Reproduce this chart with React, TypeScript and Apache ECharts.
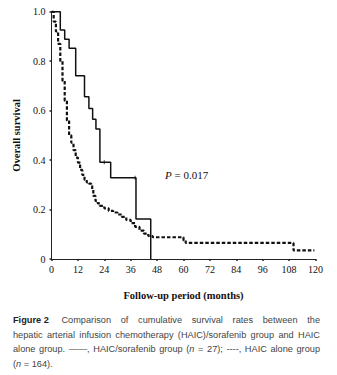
import React, { useEffect, useRef } from "react";
import * as echarts from "echarts";

// Kaplan-Meier step points [month, survival]
const comboTimes = [0, 4, 6, 8, 11, 15, 17, 18.7, 20.2, 22, 26.9, 38.4, 45.1];
const comboSurv = [1.0, 0.926, 0.889, 0.852, 0.741, 0.656, 0.609, 0.565, 0.526, 0.391, 0.329, 0.162, 0];
const comboCensorTimes = [24, 38];
const comboCensorSurv = [0.391, 0.329];

const aloneTimes = [0, 1, 2, 3, 4, 5, 6, 7, 8, 9, 10, 11, 12, 13, 14, 15, 16, 17, 18, 18.5, 19, 20, 21, 22, 24, 26, 28, 30, 32, 34, 36, 38, 40, 42, 44, 46, 59, 60, 61, 109, 110, 119.5];
const aloneSurv = [1.0, 0.96, 0.92, 0.87, 0.8, 0.72, 0.64, 0.56, 0.5, 0.47, 0.44, 0.41, 0.39, 0.36, 0.34, 0.32, 0.31, 0.305, 0.3, 0.28, 0.255, 0.235, 0.225, 0.215, 0.205, 0.195, 0.188, 0.18, 0.17, 0.158, 0.145, 0.13, 0.115, 0.103, 0.093, 0.088, 0.088, 0.075, 0.065, 0.065, 0.035, 0.035];

const xTicks = [0, 12, 24, 36, 48, 60, 72, 84, 96, 108, 120];
const yTicks = [0, 0.2, 0.4, 0.6, 0.8, 1.0];

const serif = "'Liberation Serif', 'Times New Roman', serif";
const sans = "'Liberation Sans', Arial, sans-serif";

export default function App() {
  const ref = useRef<HTMLDivElement>(null);
  useEffect(() => {
    if (!ref.current) return;
    const chart = echarts.init(ref.current, null, { renderer: "svg" });
    const pair = (t: number[], s: number[]) => t.map((v, i) => [v, s[i]]);
    chart.setOption({
      animation: false,
      grid: { left: 51.5, right: 21.5, top: 11.7, bottom: 116, containLabel: false },
      xAxis: {
        type: "value",
        min: xTicks[0],
        max: xTicks[xTicks.length - 1],
        interval: 12,
        name: "Follow-up period (months)",
        nameLocation: "middle",
        nameGap: 31,
        nameTextStyle: { fontFamily: serif, fontWeight: "bold", fontSize: 10.5, color: "#111" },
        axisLine: { lineStyle: { color: "#222", width: 1 } },
        axisTick: { show: true, length: 2, lineStyle: { color: "#222", width: 1.5 } },
        axisLabel: { fontFamily: serif, fontSize: 10, color: "#111", margin: 5 },
        splitLine: { show: false },
      },
      yAxis: {
        type: "value",
        min: yTicks[0],
        max: yTicks[yTicks.length - 1],
        interval: 0.2,
        name: "Overall survival",
        nameLocation: "middle",
        nameGap: 28,
        nameTextStyle: { fontFamily: serif, fontWeight: "bold", fontSize: 10.5, color: "#111" },
        axisLine: { show: true, lineStyle: { color: "#222", width: 1 } },
        axisTick: { show: true, length: 2, lineStyle: { color: "#222", width: 1.5 } },
        axisLabel: {
          fontFamily: serif,
          fontSize: 10,
          color: "#111",
          margin: 6,
          formatter: (v: number) => (v === 0 ? "0" : v.toFixed(1)),
        },
        splitLine: { show: false },
      },
      series: [
        {
          type: "line",
          name: "HAIC alone",
          data: pair(aloneTimes, aloneSurv),
          step: "end",
          showSymbol: false,
          lineStyle: { color: "#111", width: 2.2, type: [3.5, 2] },
        },
        {
          type: "line",
          name: "HAIC/sorafenib",
          data: pair(comboTimes, comboSurv),
          step: "end",
          showSymbol: false,
          lineStyle: { color: "#111", width: 1.5 },
        },
        {
          type: "scatter",
          data: pair(comboCensorTimes, comboCensorSurv),
          symbol: "rect",
          symbolSize: [1.2, 4],
          itemStyle: { color: "#333" },
        },
      ],
      graphic: [
        {
          type: "text",
          left: 165,
          top: 169,
          style: {
            rich: {
              i: { fontFamily: serif, fontStyle: "italic", fontSize: 11, fill: "#111" },
              n: { fontFamily: serif, fontSize: 11, fill: "#111" },
            },
            text: "{i|P}{n| = 0.017}",
          },
        },
      ],
    });
    return () => chart.dispose();
  }, []);

  const lineStyle: React.CSSProperties = {
    textAlign: "justify",
    textAlignLast: "justify",
    height: 14.5,
    lineHeight: "14.5px",
  };

  return (
    <div style={{ position: "fixed", left: 0, top: 0, width: 337, height: 375, background: "#fff" }}>
      <div ref={ref} style={{ position: "absolute", left: 0, top: 0, width: 337, height: 375 }} />
      <div
        style={{
          position: "absolute",
          left: 13,
          top: 313,
          width: 307,
          fontFamily: sans,
          fontSize: 9.2,
          color: "#444",
        }}
      >
        <div style={lineStyle}>
          <b style={{ color: "#222", display: "inline-block", marginRight: 3 }}>Figure 2</b> Comparison of cumulative survival rates between the
        </div>
        <div style={lineStyle}>
          hepatic arterial infusion chemotherapy (HAIC)/sorafenib group and HAIC
        </div>
        <div style={lineStyle}>
          alone group. ——, HAIC/sorafenib group (<i>n</i> = 27); ----, HAIC alone group
        </div>
        <div style={{ height: 14.5, lineHeight: "14.5px" }}>
          (<i>n</i> = 164).
        </div>
      </div>
    </div>
  );
}
